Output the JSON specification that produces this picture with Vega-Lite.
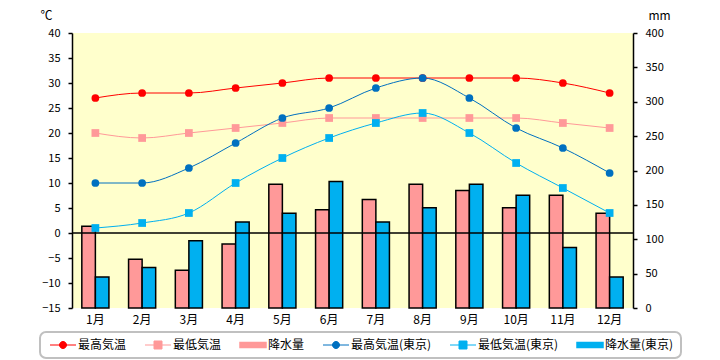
{
  "$schema": "https://vega.github.io/schema/vega-lite/v6.json",
  "width": 561,
  "height": 275,
  "autosize": {"type": "none"},
  "padding": {"left": 72, "top": 33, "right": 87, "bottom": 52},
  "background": "white",
  "config": {
    "view": {"fill": "#FFFFCC", "stroke": null},
    "font": "Noto Sans CJK JP",
    "axis": {"labelFont": "Noto Sans CJK JP", "titleFont": "Noto Sans CJK JP", "labelColor": "black", "titleColor": "black", "labelFontSize": 11, "titleFontSize": 12, "titleFontWeight": "normal", "grid": false, "labelOverlap": false},
    "legend": {"orient": "none", "legendX": -32, "legendY": 299, "direction": "horizontal", "columns": 6, "gridAlign": "each",
               "labelFontSize": 12, "labelFont": "Noto Sans CJK JP", "labelColor": "black", "symbolSize": 100,
               "symbolOffset": 10, "labelOffset": 9, "columnPadding": 15, "padding": 7,
               "strokeColor": "#C0C0C0", "fillColor": "white", "cornerRadius": 6}
  },
  "data": {"values": [
    {"month": "1月", "series": "最高気温", "value": 27},
    {"month": "2月", "series": "最高気温", "value": 28},
    {"month": "3月", "series": "最高気温", "value": 28},
    {"month": "4月", "series": "最高気温", "value": 29},
    {"month": "5月", "series": "最高気温", "value": 30},
    {"month": "6月", "series": "最高気温", "value": 31},
    {"month": "7月", "series": "最高気温", "value": 31},
    {"month": "8月", "series": "最高気温", "value": 31},
    {"month": "9月", "series": "最高気温", "value": 31},
    {"month": "10月", "series": "最高気温", "value": 31},
    {"month": "11月", "series": "最高気温", "value": 30},
    {"month": "12月", "series": "最高気温", "value": 28},
    {"month": "1月", "series": "最低気温", "value": 20},
    {"month": "2月", "series": "最低気温", "value": 19},
    {"month": "3月", "series": "最低気温", "value": 20},
    {"month": "4月", "series": "最低気温", "value": 21},
    {"month": "5月", "series": "最低気温", "value": 22},
    {"month": "6月", "series": "最低気温", "value": 23},
    {"month": "7月", "series": "最低気温", "value": 23},
    {"month": "8月", "series": "最低気温", "value": 23},
    {"month": "9月", "series": "最低気温", "value": 23},
    {"month": "10月", "series": "最低気温", "value": 23},
    {"month": "11月", "series": "最低気温", "value": 22},
    {"month": "12月", "series": "最低気温", "value": 21},
    {"month": "1月", "series": "最高気温(東京)", "value": 10},
    {"month": "2月", "series": "最高気温(東京)", "value": 10},
    {"month": "3月", "series": "最高気温(東京)", "value": 13},
    {"month": "4月", "series": "最高気温(東京)", "value": 18},
    {"month": "5月", "series": "最高気温(東京)", "value": 23},
    {"month": "6月", "series": "最高気温(東京)", "value": 25},
    {"month": "7月", "series": "最高気温(東京)", "value": 29},
    {"month": "8月", "series": "最高気温(東京)", "value": 31},
    {"month": "9月", "series": "最高気温(東京)", "value": 27},
    {"month": "10月", "series": "最高気温(東京)", "value": 21},
    {"month": "11月", "series": "最高気温(東京)", "value": 17},
    {"month": "12月", "series": "最高気温(東京)", "value": 12},
    {"month": "1月", "series": "最低気温(東京)", "value": 1},
    {"month": "2月", "series": "最低気温(東京)", "value": 2},
    {"month": "3月", "series": "最低気温(東京)", "value": 4},
    {"month": "4月", "series": "最低気温(東京)", "value": 10},
    {"month": "5月", "series": "最低気温(東京)", "value": 15},
    {"month": "6月", "series": "最低気温(東京)", "value": 19},
    {"month": "7月", "series": "最低気温(東京)", "value": 22},
    {"month": "8月", "series": "最低気温(東京)", "value": 24},
    {"month": "9月", "series": "最低気温(東京)", "value": 20},
    {"month": "10月", "series": "最低気温(東京)", "value": 14},
    {"month": "11月", "series": "最低気温(東京)", "value": 9},
    {"month": "12月", "series": "最低気温(東京)", "value": 4},
    {"month": "1月", "series": "降水量", "value": 119},
    {"month": "2月", "series": "降水量", "value": 71},
    {"month": "3月", "series": "降水量", "value": 55},
    {"month": "4月", "series": "降水量", "value": 93},
    {"month": "5月", "series": "降水量", "value": 180},
    {"month": "6月", "series": "降水量", "value": 143},
    {"month": "7月", "series": "降水量", "value": 158},
    {"month": "8月", "series": "降水量", "value": 180},
    {"month": "9月", "series": "降水量", "value": 171},
    {"month": "10月", "series": "降水量", "value": 146},
    {"month": "11月", "series": "降水量", "value": 164},
    {"month": "12月", "series": "降水量", "value": 138},
    {"month": "1月", "series": "降水量(東京)", "value": 45},
    {"month": "2月", "series": "降水量(東京)", "value": 59},
    {"month": "3月", "series": "降水量(東京)", "value": 98},
    {"month": "4月", "series": "降水量(東京)", "value": 125},
    {"month": "5月", "series": "降水量(東京)", "value": 138},
    {"month": "6月", "series": "降水量(東京)", "value": 184},
    {"month": "7月", "series": "降水量(東京)", "value": 125},
    {"month": "8月", "series": "降水量(東京)", "value": 146},
    {"month": "9月", "series": "降水量(東京)", "value": 180},
    {"month": "10月", "series": "降水量(東京)", "value": 164},
    {"month": "11月", "series": "降水量(東京)", "value": 88},
    {"month": "12月", "series": "降水量(東京)", "value": 45}
  ]},
  "layer": [
    {
      "transform": [{"filter": {"field": "series", "oneOf": ["降水量", "降水量(東京)"]}}],
      "mark": {"type": "bar", "stroke": "black", "strokeWidth": 1.5, "opacity": 1},
      "encoding": {
        "x": {"field": "month", "type": "nominal", "sort": ["1月","2月","3月","4月","5月","6月","7月","8月","9月","10月","11月","12月"],
              "scale": {"paddingInner": 0.42, "paddingOuter": 0.21},
              "axis": {"title": null, "labelAngle": 0, "ticks": false, "domain": false, "labelPadding": 6, "labelFontSize": 12}},
        "xOffset": {"field": "series", "type": "nominal", "scale": {"domain": ["降水量", "降水量(東京)"], "paddingInner": 0, "paddingOuter": 0}},
        "y": {"field": "value", "type": "quantitative", "scale": {"domain": [0, 400], "nice": false},
              "axis": {"orient": "right", "values": [0,50,100,150,200,250,300,350,400], "labelOverlap": false, "title": "mm", "titleAngle": 0, "titleX": 26, "titleY": -18, "titleAlign": "center", "titleBaseline": "middle",
                       "domainColor": "black", "domainWidth": 1.5, "tickColor": "black", "tickSize": 4, "tickWidth": 1.5, "labelPadding": 8}},
        "color": {"field": "series", "type": "nominal",
                  "scale": {"domain": ["最高気温", "最低気温", "降水量", "最高気温(東京)", "最低気温(東京)", "降水量(東京)"],
                            "range": ["#FF0000", "#FF9999", "#FF9999", "#0070C0", "#00B0F0", "#00B0F0"]},
                  "legend": {"title": null,
                             "encode": {
                               "legend": {"update": {"strokeWidth": {"value": 2}}},
                               "symbols": {"update": {
                                 "shape": {"signal": "(datum.value === '最高気温' || datum.value === '最高気温(東京)') ? 'M-2.6,0L2.6,0M0.7,0A0.7,0.7,0,1,1,-0.7,0A0.7,0.7,0,1,1,0.7,0Z' : ((datum.value === '最低気温' || datum.value === '最低気温(東京)') ? 'M-2.6,0L2.6,0M-0.8,-0.8L0.8,-0.8L0.8,0.8L-0.8,0.8Z' : 'M-2.6,-0.5L2.6,-0.5L2.6,0.5L-2.6,0.5Z')"},
                                 "fill": {"signal": "scale('color', datum.value)"},
                                 "stroke": {"signal": "(datum.value === '降水量' || datum.value === '降水量(東京)') ? 'black' : scale('color', datum.value)"},
                                 "strokeWidth": {"signal": "(datum.value === '降水量' || datum.value === '降水量(東京)') ? 1.5 : 1"},
                                 "opacity": {"value": 1}
                               }}
                             }}}
      }
    },
    {
      "encoding": {
        "y": {"field": "value", "type": "quantitative", "scale": {"domain": [-15, 40], "nice": false},
              "axis": {"orient": "left", "values": [-15,-10,-5,0,5,10,15,20,25,30,35,40], "labelOverlap": false, "labelBound": false, "title": "℃", "titleAngle": 0, "titleX": -26, "titleY": -18, "titleAlign": "center", "titleBaseline": "middle",
                       "domainColor": "black", "domainWidth": 1.5, "tickColor": "black", "tickSize": 4, "tickWidth": 1.5, "labelPadding": 8}}
      },
      "layer": [
        {
          "data": {"values": [{"value": 0}]},
          "mark": {"type": "rule", "color": "black", "strokeWidth": 1.5}
        },
        {
          "transform": [{"filter": {"field": "series", "oneOf": ["最高気温", "最低気温", "最高気温(東京)", "最低気温(東京)"]}}],
          "mark": {"type": "line", "interpolate": "monotone", "strokeWidth": 1},
          "encoding": {
            "x": {"field": "month", "type": "nominal", "sort": ["1月","2月","3月","4月","5月","6月","7月","8月","9月","10月","11月","12月"]},
            "color": {"field": "series", "type": "nominal",
                      "scale": {"domain": ["最高気温", "最低気温", "降水量", "最高気温(東京)", "最低気温(東京)", "降水量(東京)"],
                                "range": ["#FF0000", "#FF9999", "#FF9999", "#0070C0", "#00B0F0", "#00B0F0"]},
                      "legend": {"title": null,
                             "encode": {
                               "legend": {"update": {"strokeWidth": {"value": 2}}},
                               "symbols": {"update": {
                                 "shape": {"signal": "(datum.value === '最高気温' || datum.value === '最高気温(東京)') ? 'M-2.6,0L2.6,0M0.7,0A0.7,0.7,0,1,1,-0.7,0A0.7,0.7,0,1,1,0.7,0Z' : ((datum.value === '最低気温' || datum.value === '最低気温(東京)') ? 'M-2.6,0L2.6,0M-0.8,-0.8L0.8,-0.8L0.8,0.8L-0.8,0.8Z' : 'M-2.6,-0.5L2.6,-0.5L2.6,0.5L-2.6,0.5Z')"},
                                 "fill": {"signal": "scale('color', datum.value)"},
                                 "stroke": {"signal": "(datum.value === '降水量' || datum.value === '降水量(東京)') ? 'black' : scale('color', datum.value)"},
                                 "strokeWidth": {"signal": "(datum.value === '降水量' || datum.value === '降水量(東京)') ? 1.5 : 1"},
                                 "opacity": {"value": 1}
                               }}
                             }}}
          }
        },
        {
          "transform": [{"filter": {"field": "series", "oneOf": ["最高気温", "最低気温", "最高気温(東京)", "最低気温(東京)"]}}],
          "mark": {"type": "point", "filled": true, "size": 60, "opacity": 1},
          "encoding": {
            "x": {"field": "month", "type": "nominal", "sort": ["1月","2月","3月","4月","5月","6月","7月","8月","9月","10月","11月","12月"]},
            "color": {"field": "series", "type": "nominal",
                      "scale": {"domain": ["最高気温", "最低気温", "降水量", "最高気温(東京)", "最低気温(東京)", "降水量(東京)"],
                                "range": ["#FF0000", "#FF9999", "#FF9999", "#0070C0", "#00B0F0", "#00B0F0"]},
                      "legend": {"title": null,
                             "encode": {
                               "legend": {"update": {"strokeWidth": {"value": 2}}},
                               "symbols": {"update": {
                                 "shape": {"signal": "(datum.value === '最高気温' || datum.value === '最高気温(東京)') ? 'M-2.6,0L2.6,0M0.7,0A0.7,0.7,0,1,1,-0.7,0A0.7,0.7,0,1,1,0.7,0Z' : ((datum.value === '最低気温' || datum.value === '最低気温(東京)') ? 'M-2.6,0L2.6,0M-0.8,-0.8L0.8,-0.8L0.8,0.8L-0.8,0.8Z' : 'M-2.6,-0.5L2.6,-0.5L2.6,0.5L-2.6,0.5Z')"},
                                 "fill": {"signal": "scale('color', datum.value)"},
                                 "stroke": {"signal": "(datum.value === '降水量' || datum.value === '降水量(東京)') ? 'black' : scale('color', datum.value)"},
                                 "strokeWidth": {"signal": "(datum.value === '降水量' || datum.value === '降水量(東京)') ? 1.5 : 1"},
                                 "opacity": {"value": 1}
                               }}
                             }}},
            "shape": {"field": "series", "type": "nominal",
                      "scale": {"domain": ["最高気温", "最低気温", "最高気温(東京)", "最低気温(東京)"], "range": ["circle", "square", "circle", "square"]},
                      "legend": null}
          }
        }
      ]
    }
  ],
  "resolve": {"scale": {"y": "independent"}}
}
